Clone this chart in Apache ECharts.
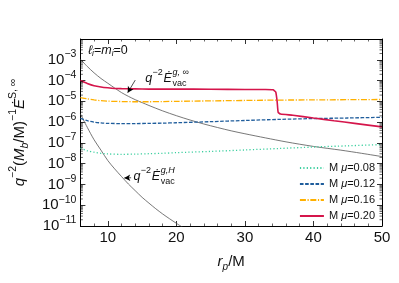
<!DOCTYPE html>
<html><head><meta charset="utf-8">
<script src="https://cdn.jsdelivr.net/npm/echarts@6/dist/echarts.min.js"></script>
<style>html,body{margin:0;padding:0;background:#fff}#c{width:399px;height:283px}</style>
</head><body><div id="c"></div>
<script>
// ---------- data ----------
const rInf = [6,7,8,9,10,11,12,13,14,15,16,18,20,22,24,26,28,30,33,36,40,44,47,50];
const eInf = [1.07e-3,4.79e-4,2.34e-4,1.26e-4,7.41e-5,4.37e-5,2.63e-5,1.74e-5,1.20e-5,8.71e-6,6.31e-6,3.47e-6,2.04e-6,1.26e-6,8.13e-7,5.50e-7,3.80e-7,2.75e-7,1.74e-7,1.12e-7,6.76e-8,4.47e-8,3.16e-8,2.19e-8];
const rHor = [6,7,8,9,10,11,12,13,14,15,16,17,18,19,20,21];
const eHor = [2.51e-6,5.62e-7,1.41e-7,4.47e-8,1.41e-8,5.62e-9,2.40e-9,1.05e-9,5.01e-10,2.40e-10,1.26e-10,6.76e-11,3.80e-11,2.24e-11,1.35e-11,8.3e-12];
const rMu = [6,7,8,9,10,12,14,16,18,20,25,30,35,40,45,50];
const mu008 = [5.62e-8,4.17e-8,3.55e-8,3.16e-8,2.95e-8,2.82e-8,2.88e-8,3.02e-8,3.16e-8,3.39e-8,3.89e-8,4.57e-8,5.37e-8,6.31e-8,7.24e-8,8.32e-8];
const mu012 = [1.51e-6,1.17e-6,1.0e-6,9.12e-7,8.71e-7,8.51e-7,8.51e-7,8.71e-7,8.91e-7,9.33e-7,1.05e-6,1.20e-6,1.35e-6,1.48e-6,1.58e-6,1.70e-6];
const mu016 = [1.51e-5,1.32e-5,1.17e-5,1.07e-5,1.02e-5,9.77e-6,9.55e-6,9.55e-6,9.77e-6,1.0e-5,1.05e-5,1.10e-5,1.15e-5,1.17e-5,1.20e-5,1.23e-5];
const rMu020 = [6,7,8,9,10,11,12,14,16,20,25,30,33,34.1,34.5,34.7,34.85,35.2,37,40,43,46,50];
const mu020 = [1.0e-4,7.24e-5,5.62e-5,4.90e-5,4.47e-5,4.17e-5,4.07e-5,3.98e-5,3.89e-5,3.89e-5,3.80e-5,3.72e-5,3.72e-5,3.6e-5,2.8e-5,1.0e-5,3.0e-6,2.45e-6,2.14e-6,1.58e-6,1.17e-6,8.71e-7,5.89e-7];
const seriesNames = ['M μ=0.08','M μ=0.12','M μ=0.16','M μ=0.20'];
const xRange = [6, 50];
const yRange = [1e-11, 1e-2];
const yDecades = [-11,-10,-9,-8,-7,-6,-5,-4,-3];
const yLabelMaxExp = -3;
// annotation anchors (data coords)
const annoInf = {tail:[14.0,1.05e-4], tip:[12.9,2.6e-5], text:[15.47,1.23e-4], sup:'g, ∞'};
const annoHor = {tail:[13.4,2.1e-9], tip:[12.4,2.05e-9], text:[13.73,2.3e-9], sup:'g,H'};

// ---------- helpers ----------
const FONT = 'Liberation Sans';
const zip = (a,b) => a.map((v,i) => [v,b[i]]);
const minorVals = [];
yDecades.forEach(e => { for (let k=2;k<=9;k++) minorVals.push([xRange[0], k*Math.pow(10,e)]); });

const chart = echarts.init(document.getElementById('c'), null, {renderer:'canvas'});
const axisLineStyle = {color:'#000', width:1};
const tickMajor = {show:true, inside:true, length:5, lineStyle:{color:'#000', width:0.8}};
const tickMinor = {show:true, splitNumber:5, length:2.5, lineStyle:{color:'#000', width:0.6}};

function supLabel(v){
  const e = Math.round(Math.log10(v));
  if (e > yLabelMaxExp) return '';
  return '{b|10}{s|' + (e<0?'−':'') + Math.abs(e) + '}';
}

const arrowML = (a) => ({
  silent:true, symbol:['none','arrow'], symbolSize:[5,6],
  lineStyle:{color:'#000', width:0.7, type:'solid'}, label:{show:false},
  data:[[{coord:a.tail},{coord:a.tip}]]
});

const option = {
  animation:false,
  backgroundColor:'#fff',
  grid:{left:80, right:17, top:39, bottom:57},
  legend:{
    orient:'vertical', right:19, top:157, itemWidth:24, itemHeight:10, itemGap:4,
    data:seriesNames,
    itemStyle:{opacity:0, borderWidth:0},
    formatter: n => n.replace('μ','{i|μ}'),
    textStyle:{fontFamily:FONT, fontSize:11, color:'#111', lineHeight:12,
      rich:{i:{fontFamily:FONT, fontSize:11, fontStyle:'italic', color:'#111'}}}
  },
  xAxis:[
    {type:'value', min:xRange[0], max:xRange[1], position:'bottom',
     axisLine:{lineStyle:axisLineStyle}, axisTick:tickMajor, minorTick:tickMinor,
     splitLine:{show:false},
     axisLabel:{showMinLabel:false, fontFamily:FONT, fontSize:15, color:'#111', margin:4},
     name:'{i|r}{sub|p}{n|/M}', nameLocation:'middle', nameGap:26,
     nameTextStyle:{fontFamily:FONT, fontSize:15, color:'#111',
       rich:{i:{fontFamily:FONT,fontSize:15,fontStyle:'italic',lineHeight:20},
             sub:{fontFamily:FONT,fontSize:10,fontStyle:'italic',verticalAlign:'bottom',lineHeight:12},
             n:{fontFamily:FONT,fontSize:15,lineHeight:20}}}},
    {type:'value', min:xRange[0], max:xRange[1], position:'top',
     axisLine:{lineStyle:axisLineStyle}, axisTick:tickMajor, minorTick:tickMinor,
     splitLine:{show:false}, axisLabel:{show:false}}
  ],
  yAxis:[
    {type:'log', logBase:10, min:yRange[0], max:yRange[1], position:'left',
     axisLine:{show:true, lineStyle:axisLineStyle}, axisTick:tickMajor, splitLine:{show:false},
     axisLabel:{formatter:supLabel, margin:4,
       rich:{b:{fontFamily:FONT, fontSize:15, color:'#111', lineHeight:22},
             s:{fontFamily:FONT, fontSize:10.5, color:'#111', verticalAlign:'top', lineHeight:10}}},
     name:'{i|q}{sup|−2}{n|(}{i|M}{sub|b}{n|/M)}{sup|−1}{i|Ė}{sup|S, ∞}',
     nameLocation:'middle', nameGap:44, nameRotate:90,
     nameTextStyle:{fontFamily:FONT, fontSize:15, color:'#111',
       rich:{i:{fontFamily:FONT,fontSize:15,fontStyle:'italic',lineHeight:23},
             n:{fontFamily:FONT,fontSize:15,lineHeight:23},
             sup:{fontFamily:FONT,fontSize:10.5,verticalAlign:'top',lineHeight:10},
             sub:{fontFamily:FONT,fontSize:10.5,fontStyle:'italic',verticalAlign:'bottom',lineHeight:10}}}},
    {type:'log', logBase:10, min:yRange[0], max:yRange[1], position:'right',
     axisLine:{show:true, lineStyle:axisLineStyle}, axisTick:tickMajor, splitLine:{show:false},
     axisLabel:{show:false}}
  ],
  series:[
    {name:'Einf', type:'line', data:zip(rInf,eInf), symbol:'none', smooth:0.3,
     lineStyle:{color:'#555', width:0.8}, z:3, markLine:arrowML(annoInf)},
    {name:'EH', type:'line', data:zip(rHor,eHor), symbol:'none', smooth:0.3,
     lineStyle:{color:'#555', width:0.8}, z:3, markLine:arrowML(annoHor)},
    {name:seriesNames[0], type:'line', data:zip(rMu,mu008), symbol:'none', smooth:0.3,
     color:'#3ccf9f', lineStyle:{color:'#3ccf9f', width:1.3, type:[1.2,2.2]}},
    {name:seriesNames[1], type:'line', data:zip(rMu,mu012), symbol:'none', smooth:0.3,
     color:'#1f5d9c', lineStyle:{color:'#1f5d9c', width:1.3, type:[3.6,1.6]}},
    {name:seriesNames[2], type:'line', data:zip(rMu,mu016), symbol:'none', smooth:0.3,
     color:'#ffb000', lineStyle:{color:'#ffb000', width:1.3, type:[6,1.6,1.2,1.6]}},
    {name:seriesNames[3], type:'line', data:zip(rMu020,mu020), symbol:'none', smooth:0.15,
     color:'#d5154b', lineStyle:{color:'#d5154b', width:1.6}},
    {name:'yminor', type:'custom', data:minorVals, silent:true, clip:false, z:5,
     renderItem:(params, api) => {
       const v = api.value(1);
       const pl = api.coord([xRange[0], v]);
       const pr = api.coord([xRange[1], v]);
       const st = {stroke:'#000', lineWidth:0.6};
       return {type:'group', children:[
         {type:'line', shape:{x1:pl[0], y1:pl[1], x2:pl[0]+2.5, y2:pl[1]}, style:st},
         {type:'line', shape:{x1:pr[0], y1:pr[1], x2:pr[0]-2.5, y2:pr[1]}, style:st}
       ]};
     }}
  ]
};
chart.setOption(option);

// ---------- annotations positioned through the axes ----------
const ctx = document.createElement('canvas').getContext('2d');
function tw(txt, size, italic){ ctx.font = (italic?'italic ':'') + size + 'px "' + FONT + '"'; return ctx.measureText(txt).width; }
function annoGraphics(a){
  const p = chart.convertToPixel({xAxisIndex:0, yAxisIndex:0}, a.text);
  const x = p[0], y = p[1];
  const big = 12.5, small = 9;
  const els = [];
  const t = (txt, xx, yy, size, italic) => els.push({type:'text', x:xx, y:yy, silent:true,
    style:{text:txt, fontFamily:FONT, fontSize:size, fontStyle:italic?'italic':'normal', fill:'#111', textVerticalAlign:'middle', textAlign:'left'}});
  let cx = x;
  t('q', cx, y, big, true); cx += tw('q', big, true) + 0.3;
  t('−2', cx, y-6, small, false); cx += tw('−2', small, false) + 0.8;
  t('Ė', cx, y, big, true); cx += tw('Ė', big, true) + 0.6;
  t(a.sup, cx, y-6.5, small, true);
  t('vac', cx, y+4.5, small, false);
  return els;
}
const g = annoGraphics(annoInf).concat(annoGraphics(annoHor));
g.push({type:'text', left:88, top:44, silent:true,
  style:{text:'{i|ℓ}{s|i}{n|=}{i|m}{s|i}{n|=0}', fontFamily:FONT, fill:'#111',
    rich:{i:{fontFamily:FONT,fontSize:12.5,fontStyle:'italic',lineHeight:15},
          n:{fontFamily:FONT,fontSize:12.5,lineHeight:15},
          s:{fontFamily:FONT,fontSize:8.5,fontStyle:'italic',verticalAlign:'bottom',lineHeight:9}}}});
chart.setOption({graphic:g});
</script></body></html>
